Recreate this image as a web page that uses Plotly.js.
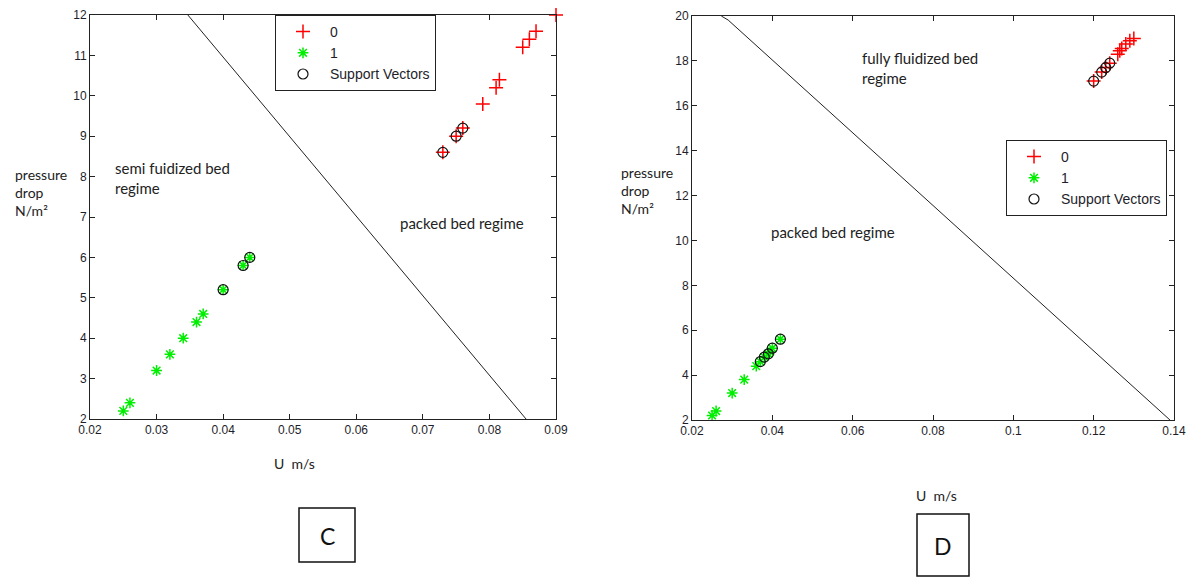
<!DOCTYPE html>
<html>
<head>
<meta charset="utf-8">
<script src="https://cdn.plot.ly/plotly-3.0.1.min.js"></script>
<style>html,body{margin:0;padding:0;background:#fff;}#chart{width:1195px;height:577px;}</style>
</head>
<body>
<div id="chart"></div>
<script>
// ---------- Data: panel C ----------
const leftClass0X = [0.073, 0.075, 0.076, 0.079, 0.081, 0.0815, 0.085, 0.086, 0.087, 0.090];
const leftClass0Y = [8.6, 9.0, 9.2, 9.8, 10.2, 10.4, 11.2, 11.4, 11.6, 12.0];
const leftClass1X = [0.025, 0.026, 0.030, 0.032, 0.034, 0.036, 0.037, 0.040, 0.043, 0.044];
const leftClass1Y = [2.2, 2.4, 3.2, 3.6, 4.0, 4.4, 4.6, 5.2, 5.8, 6.0];
const leftSVX = [0.073, 0.075, 0.076, 0.040, 0.043, 0.044];
const leftSVY = [8.6, 9.0, 9.2, 5.2, 5.8, 6.0];
const leftBoundaryX = [0.0347, 0.0855];
const leftBoundaryY = [12, 2];
const leftXTicks = [0.02, 0.03, 0.04, 0.05, 0.06, 0.07, 0.08, 0.09];
const leftXTickText = ["0.02", "0.03", "0.04", "0.05", "0.06", "0.07", "0.08", "0.09"];
const leftYTicks = [2, 3, 4, 5, 6, 7, 8, 9, 10, 11, 12];

// ---------- Data: panel D ----------
const rightClass0X = [0.120, 0.122, 0.123, 0.124, 0.126, 0.1265, 0.127, 0.128, 0.129, 0.130];
const rightClass0Y = [17.1, 17.5, 17.7, 17.9, 18.3, 18.45, 18.55, 18.75, 18.9, 19.0];
const rightClass1X = [0.025, 0.026, 0.030, 0.033, 0.036, 0.037, 0.038, 0.039, 0.0395, 0.040, 0.042];
const rightClass1Y = [2.2, 2.4, 3.2, 3.8, 4.4, 4.6, 4.8, 4.95, 5.05, 5.2, 5.6];
const rightSVX = [0.120, 0.122, 0.123, 0.124, 0.037, 0.038, 0.039, 0.040, 0.042];
const rightSVY = [17.1, 17.5, 17.7, 17.9, 4.6, 4.8, 4.95, 5.2, 5.6];
const rightBoundaryX = [0.0273, 0.0290, 0.139];
const rightBoundaryY = [20, 19.82, 2];
const rightXTicks = [0.02, 0.04, 0.06, 0.08, 0.10, 0.12, 0.14];
const rightXTickText = ["0.02", "0.04", "0.06", "0.08", "0.1", "0.12", "0.14"];
const rightYTicks = [2, 4, 6, 8, 10, 12, 14, 16, 18, 20];

const legendNames = ["0", "1", "Support Vectors"];

// ---------- Geometry (pixels) ----------
const W = 1195, H = 577;
const px = v => v / W;
const py = v => 1 - v / H;

const redMarker = {symbol: "cross-thin-open", size: 10, color: "#ff0000", line: {color: "#ff0000", width: 1.5}};
const greenMarker = {symbol: "asterisk-open", size: 9, color: "#00ee00", line: {color: "#00ee00", width: 1.5}};
const svMarker = {symbol: "circle-open", size: 10, color: "#111", line: {color: "#111", width: 1.2}};

function panelTraces(xa, ya, lg, c0x, c0y, c1x, c1y, svx, svy, bx, by) {
  return [
    {type: "scatter", mode: "lines", x: bx, y: by, xaxis: xa, yaxis: ya, showlegend: false,
     line: {color: "#222", width: 1}, hoverinfo: "skip"},
    {type: "scatter", mode: "markers", name: legendNames[0], x: c0x, y: c0y, xaxis: xa, yaxis: ya,
     legend: lg, marker: redMarker, cliponaxis: false},
    {type: "scatter", mode: "markers", name: legendNames[1], x: c1x, y: c1y, xaxis: xa, yaxis: ya,
     legend: lg, marker: greenMarker, cliponaxis: false},
    {type: "scatter", mode: "markers", name: legendNames[2], x: svx, y: svy, xaxis: xa, yaxis: ya,
     legend: lg, marker: svMarker, cliponaxis: false}
  ];
}

const data = [].concat(
  panelTraces("x", "y", "legend", leftClass0X, leftClass0Y, leftClass1X, leftClass1Y, leftSVX, leftSVY, leftBoundaryX, leftBoundaryY),
  panelTraces("x2", "y2", "legend2", rightClass0X, rightClass0Y, rightClass1X, rightClass1Y, rightSVX, rightSVY, rightBoundaryX, rightBoundaryY)
);

const tickFont = {family: "Liberation Sans, Arial, sans-serif", size: 12, color: "#1e1e2a"};
function axis(domain, range, tv, tt, anchor) {
  const a = {domain: domain, range: range, tickvals: tv, showgrid: false, zeroline: false,
    showline: true, linecolor: "#222", linewidth: 1, mirror: "ticks", ticks: "inside",
    ticklen: 5, tickcolor: "#222", tickfont: tickFont, anchor: anchor, fixedrange: true};
  if (tt) a.ticktext = tt;
  return a;
}

const fam = "Lato, 'Noto Sans', sans-serif";
const annFont = {family: fam, size: 15, color: "#222"};
const titleFont = {family: fam, size: 14, color: "#222"};
const annotations = [
  {text: "semi fuidized bed<br>regime", x: px(113), y: py(177.5), xanchor: "left", yanchor: "middle", align: "left"},
  {text: "packed bed regime", x: px(398), y: py(223), xanchor: "left", yanchor: "middle", align: "left"},
  {text: "fully fluidized bed<br>regime", x: px(860), y: py(67.5), xanchor: "left", yanchor: "middle", align: "left"},
  {text: "packed bed regime", x: px(769), y: py(232), xanchor: "left", yanchor: "middle", align: "left"},
  {text: "pressure<br>drop<br>N/m²", x: px(13), y: py(192.5), xanchor: "left", yanchor: "middle", align: "left", font: titleFont},
  {text: "pressure<br>drop<br>N/m²", x: px(619), y: py(190), xanchor: "left", yanchor: "middle", align: "left", font: titleFont},
  {text: "U  m/s", x: px(294), y: py(463), xanchor: "center", yanchor: "middle", font: titleFont},
  {text: "U  m/s", x: px(936), y: py(495), xanchor: "center", yanchor: "middle", font: titleFont},
  {text: "C", x: px(327), y: py(536), xanchor: "center", yanchor: "middle", font: {family: fam, size: 23, color: "#111"}},
  {text: "D", x: px(943), y: py(546), xanchor: "center", yanchor: "middle", font: {family: fam, size: 23, color: "#111"}}
].map(a => Object.assign({xref: "paper", yref: "paper", showarrow: false, font: annFont}, a));

const shapes = [
  {type: "rect", xref: "paper", yref: "paper", x0: px(299), x1: px(355), y0: py(562), y1: py(508), line: {color: "#111", width: 1.5}},
  {type: "rect", xref: "paper", yref: "paper", x0: px(917), x1: px(969), y0: py(576), y1: py(514), line: {color: "#111", width: 1.5}}
];

const legendStyle = {bgcolor: "#fff", bordercolor: "#222", borderwidth: 1,
  font: {family: "Liberation Sans, Arial, sans-serif", size: 14, color: "#1e1e2a"},
  xanchor: "left", yanchor: "top", itemwidth: 44, tracegroupgap: 0};

const layout = {
  width: W, height: H,
  margin: {l: 0, r: 0, t: 0, b: 0},
  paper_bgcolor: "#fff", plot_bgcolor: "#fff",
  xaxis: axis([px(90), px(556)], [0.02, 0.09], leftXTicks, leftXTickText, "y"),
  yaxis: axis([py(419), py(15)], [2, 12], leftYTicks, null, "x"),
  xaxis2: axis([px(692), px(1174)], [0.02, 0.14], rightXTicks, rightXTickText, "y2"),
  yaxis2: axis([py(420), py(16)], [2, 20], rightYTicks, null, "x2"),
  legend: Object.assign({x: px(275), y: py(15)}, legendStyle),
  legend2: Object.assign({x: px(1006), y: py(140)}, legendStyle),
  annotations: annotations,
  shapes: shapes,
  showlegend: true
};

Plotly.newPlot("chart", data, layout, {staticPlot: true, displayModeBar: false});
</script>
</body>
</html>
